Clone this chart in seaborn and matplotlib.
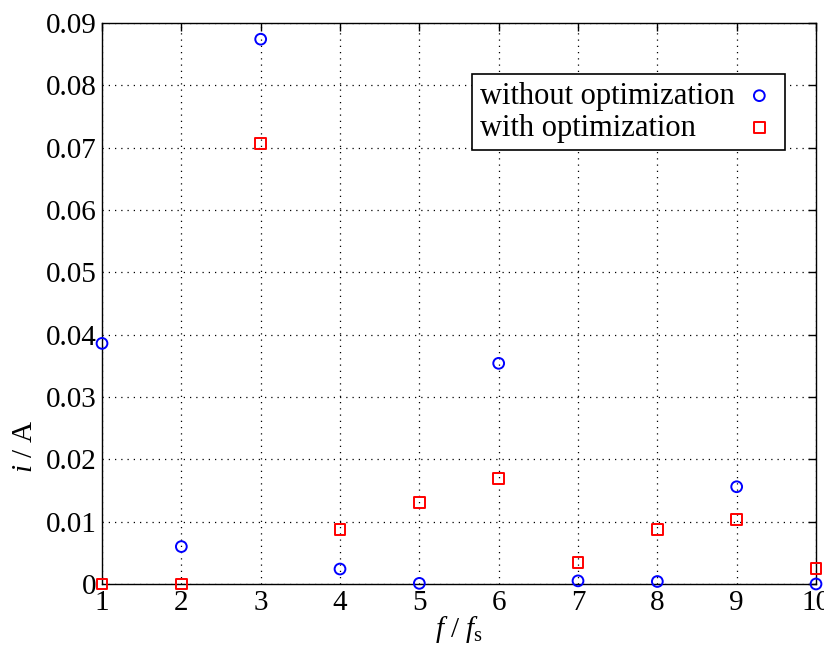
import pandas as pd
import matplotlib
matplotlib.use("Agg")
import matplotlib.pyplot as plt
import seaborn as sns

# harmonic order f/fs and current amplitudes
harmonic = [1, 2, 3, 4, 5, 6, 7, 8, 9, 10]
i_without = [0.0386, 0.0060, 0.0874, 0.0024, 0.0001, 0.0354, 0.0005, 0.0004, 0.0156, 0.0000]
i_with = [0.0000, 0.0000, 0.0707, 0.0088, 0.0130, 0.0169, 0.0035, 0.0087, 0.0104, 0.0025]
y_ticks = [0, 0.01, 0.02, 0.03, 0.04, 0.05, 0.06, 0.07, 0.08, 0.09]
y_labels = ["0", "0.01", "0.02", "0.03", "0.04", "0.05", "0.06", "0.07", "0.08", "0.09"]

df = pd.DataFrame({"h": harmonic, "without": i_without, "with": i_with})

sns.set_style("white")
plt.rcParams["font.family"] = ["Liberation Serif", "DejaVu Serif"]
plt.rcParams["mathtext.fontset"] = "custom"
plt.rcParams["mathtext.rm"] = "Liberation Serif"
plt.rcParams["mathtext.it"] = "Liberation Serif:italic"
plt.rcParams["text.color"] = "black"
plt.rcParams["axes.labelcolor"] = "black"
plt.rcParams["xtick.color"] = "black"
plt.rcParams["ytick.color"] = "black"

fig = plt.figure(figsize=(8.24, 6.46), dpi=100)
ax = fig.add_axes([0.1238, 0.096, 0.8665, 0.8684])

sns.scatterplot(data=df, x="h", y="without", marker="o", s=60, facecolor="none",
                edgecolor="blue", linewidth=1.4, label="without optimization",
                clip_on=False, zorder=5, ax=ax)
sns.scatterplot(data=df, x="h", y="with", marker="s", s=62, facecolor="none",
                edgecolor="red", linewidth=1.4, label="with optimization",
                clip_on=False, zorder=5, ax=ax)

ax.set_xlim(1, 10)
ax.set_ylim(0, 0.09)
ax.set_xticks(harmonic)
ax.set_yticks(y_ticks)
ax.set_yticklabels(y_labels)
ax.tick_params(direction="in", top=True, right=True, labelsize=21, length=6, width=1, pad=4)
ax.grid(True, linestyle=(0, (1, 4)), color="black", linewidth=0.9)
for sp in ax.spines.values():
    sp.set_color("black")
    sp.set_linewidth(1)

ax.set_xlabel("$f$ / $f_\\mathrm{s}$", fontsize=21, labelpad=-1)
ax.set_ylabel("$i$ / A", fontsize=21)
ax.yaxis.set_label_coords(-0.09, 0.245)

leg = ax.legend(loc="upper right", bbox_to_anchor=(0.957, 0.909), markerfirst=False,
                fontsize=22, frameon=True, fancybox=False, edgecolor="black",
                framealpha=1, borderpad=0.25, handletextpad=0.2, labelspacing=0.1,
                handlelength=1.2, borderaxespad=0)
leg.get_frame().set_linewidth(1.2)

# left-align the labels while keeping the markers in one column on the right
fig.canvas.draw()
renderer = fig.canvas.get_renderer()
texts = leg.get_texts()
widths = [t.get_window_extent(renderer).width for t in texts]
wmax = max(widths)
column = leg._legend_handle_box.get_children()[0]
column.align = "left"
for item, w in zip(column.get_children(), widths):
    item.sep = item.sep + (wmax - w) * 72 / fig.dpi

fig.savefig("out.png", dpi=100)
